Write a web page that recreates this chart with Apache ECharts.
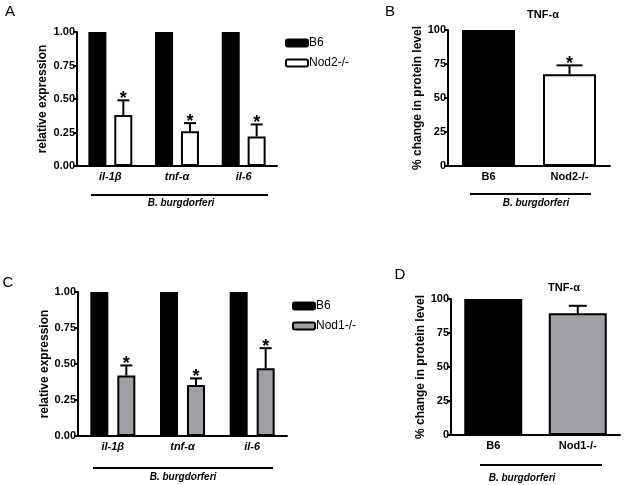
<!DOCTYPE html>
<html><head><meta charset="utf-8">
<script src="https://cdn.jsdelivr.net/npm/echarts@6/dist/echarts.min.js"></script>
<style>html,body{margin:0;padding:0;background:#fff}#c{width:625px;height:485px}</style>
</head><body><div id="c"></div>
<script>
// ---- data ----
const geneCats = ['il-1β', 'tnf-α', 'il-6'];
const relTicks = [0, 0.25, 0.5, 0.75, 1];
const aB6 = [1, 1, 1];
const aNod2 = [0.38, 0.26, 0.22];
const aNod2Err = [0.49, 0.32, 0.31];
const aSig = [true, true, true];

const bCats = ['B6', 'Nod2-/-'];
const bVals = [100, 67.5];
const bErr = [null, 74];
const bSig = [false, true];

const cB6 = [1, 1, 1];
const cNod1 = [0.42, 0.355, 0.47];
const cNod1Err = [0.49, 0.40, 0.61];
const cSig = [true, true, true];

const dCats = ['B6', 'Nod1-/-'];
const dVals = [100, 89.5];
const dErr = [null, 95];
const dSig = [false, false];

const GREY = '#9f9fa3';
const FONT = 'Liberation Sans, Arial, sans-serif';

const chart = echarts.init(document.getElementById('c'));

function errData(vals, errs, sig) {
  const out = [];
  vals.forEach((v, i) => { if (errs[i] != null) out.push([i, v, errs[i], sig[i] ? 1 : 0]); });
  return out;
}
function errSeries(idx, data, offset, cap) {
  return {
    type: 'custom', xAxisIndex: idx, yAxisIndex: idx, z: 5, silent: true,
    data: data,
    renderItem: function (params, api) {
      const base = api.coord([api.value(0), api.value(1)]);
      const top = api.coord([api.value(0), api.value(2)]);
      const x = base[0] + offset;
      const ch = [
        { type: 'line', shape: { x1: x, y1: base[1], x2: x, y2: top[1] }, style: { stroke: '#000', lineWidth: 2 } },
        { type: 'line', shape: { x1: x - cap / 2, y1: top[1], x2: x + cap / 2, y2: top[1] }, style: { stroke: '#000', lineWidth: 2 } }
      ];
      if (api.value(3)) {
        ch.push({ type: 'text', style: { text: '*', x: x, y: top[1] + 8, textAlign: 'center', textVerticalAlign: 'bottom', font: 'bold 18px ' + FONT, fill: '#000' } });
      }
      return { type: 'group', children: ch };
    }
  };
}
function xAx(idx, cats) {
  return {
    type: 'category', gridIndex: idx, data: cats,
    axisLine: { lineStyle: { color: '#000', width: 2 } },
    axisTick: { alignWithLabel: true, length: 4, lineStyle: { color: '#000', width: 2 } },
    axisLabel: { color: '#000', fontFamily: FONT, fontWeight: 'bold', fontStyle: idx % 2 === 0 ? 'italic' : 'normal', fontSize: 11, margin: 5 }
  };
}
function yAx(idx, max, interval, digits, name, gap) {
  return {
    type: 'value', gridIndex: idx, min: 0, max: max, interval: interval,
    name: name, nameLocation: 'middle', nameGap: gap,
    nameTextStyle: { color: '#000', fontFamily: FONT, fontWeight: 'bold', fontSize: 12 },
    splitLine: { show: false },
    axisLine: { show: true, lineStyle: { color: '#000', width: 2 } },
    axisTick: { show: true, length: 4, lineStyle: { color: '#000', width: 2 } },
    axisLabel: { color: '#000', fontFamily: FONT, fontWeight: 'bold', fontSize: 11, margin: 2,
      formatter: v => v.toFixed(digits) }
  };
}
const border = { borderColor: '#000', borderWidth: 2 };

function txt(x, y, s, font, align) {
  return { type: 'text', x: x, y: y, style: { text: s, font: font, fill: '#000', textAlign: align || 'center', textVerticalAlign: 'middle' } };
}
function hline(x1, x2, y) {
  return { type: 'line', shape: { x1: x1, y1: y, x2: x2, y2: y }, style: { stroke: '#000', lineWidth: 2 } };
}

chart.setOption({
  animation: false,
  grid: [
    { left: 77, top: 32, width: 200, height: 134 },
    { left: 448, top: 30, width: 162, height: 136 },
    { left: 78, top: 292, width: 209, height: 144 },
    { left: 451, top: 299, width: 169, height: 136 }
  ],
  xAxis: [xAx(0, geneCats), xAx(1, bCats), xAx(2, geneCats), xAx(3, dCats)],
  yAxis: [
    yAx(0, 1, 0.25, 2, 'relative expression', 28),
    yAx(1, 100, 25, 0, '% change in protein level', 21),
    yAx(2, 1, 0.25, 2, 'relative expression', 25),
    yAx(3, 100, 25, 0, '% change in protein level', 22)
  ],
  legend: [
    { orient: 'vertical', left: 280, top: 32, itemWidth: 22, itemHeight: 7, itemGap: 8, selectedMode: false,
      data: ['B6', 'Nod2-/-'], textStyle: { fontFamily: FONT, fontSize: 12, color: '#000', padding: [0, 0, 0, -4] } },
    { orient: 'vertical', left: 287, top: 295, itemWidth: 22, itemHeight: 7, itemGap: 8, selectedMode: false,
      data: ['B6', 'Nod1-/-'], textStyle: { fontFamily: FONT, fontSize: 12, color: '#000', padding: [0, 0, 0, -4] } }
  ],
  series: [
    { name: 'B6', type: 'bar', xAxisIndex: 0, yAxisIndex: 0, data: aB6, barWidth: 18, barGap: '44%', itemStyle: Object.assign({ color: '#000' }, border) },
    { name: 'Nod2-/-', type: 'bar', xAxisIndex: 0, yAxisIndex: 0, data: aNod2, barWidth: 18, barGap: '44%', itemStyle: Object.assign({ color: '#fff' }, border) },
    errSeries(0, errData(aNod2, aNod2Err, aSig), 13, 12),

    { name: 'Bprot', type: 'bar', xAxisIndex: 1, yAxisIndex: 1, barWidth: 53,
      data: bVals.map((v, i) => ({ value: v, itemStyle: { color: i === 0 ? '#000' : '#fff' } })),
      itemStyle: border },
    errSeries(1, errData(bVals, bErr, bSig), 0, 26),

    { name: 'B6', type: 'bar', xAxisIndex: 2, yAxisIndex: 2, data: cB6, barWidth: 18, barGap: '50%', itemStyle: Object.assign({ color: '#000' }, border) },
    { name: 'Nod1-/-', type: 'bar', xAxisIndex: 2, yAxisIndex: 2, data: cNod1, barWidth: 18, barGap: '50%', itemStyle: Object.assign({ color: GREY }, border) },
    errSeries(2, errData(cNod1, cNod1Err, cSig), 13.5, 12),

    { name: 'Dprot', type: 'bar', xAxisIndex: 3, yAxisIndex: 3, barWidth: 58,
      data: dVals.map((v, i) => ({ value: v, itemStyle: { color: i === 0 ? '#000' : GREY } })),
      itemStyle: border },
    errSeries(3, errData(dVals, dErr, dSig), 0, 18)
  ],
  graphic: [
    txt(10, 12, 'A', '15px ' + FONT),
    txt(390, 12, 'B', '15px ' + FONT),
    txt(8, 283, 'C', '15px ' + FONT),
    txt(400, 275, 'D', '15px ' + FONT),
    txt(543, 15, 'TNF-α', 'bold 11px ' + FONT),
    txt(564, 288, 'TNF-α', 'bold 11px ' + FONT),
    hline(91, 268, 195),
    txt(181, 203, 'B. burgdorferi', 'italic bold 10px ' + FONT),
    hline(470, 591, 194),
    txt(536, 203, 'B. burgdorferi', 'italic bold 10px ' + FONT),
    hline(93, 273, 468),
    txt(183, 477, 'B. burgdorferi', 'italic bold 10px ' + FONT),
    hline(480, 602, 465),
    txt(522, 478, 'B. burgdorferi', 'italic bold 10px ' + FONT)
  ]
});
</script></body></html>
